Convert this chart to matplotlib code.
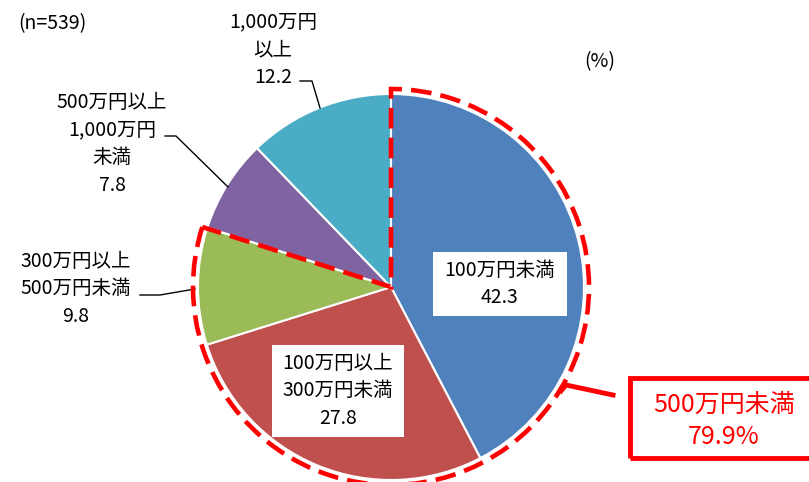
import numpy as np
import matplotlib.pyplot as plt
from matplotlib.patches import Wedge, Rectangle

plt.rcParams['font.family'] = ['Noto Sans CJK JP', 'DejaVu Sans']

labels = ['100万円未満', '100万円以上\n300万円未満', '300万円以上\n500万円未満',
          '500万円以上\n1,000万円\n未満', '1,000万円\n以上']
values = [42.3, 27.8, 9.8, 7.8, 12.2]
colors = ['#4F81BD', '#C0504D', '#9BBB59', '#8064A2', '#4BACC6']
under500 = 79.9

W, H = 809, 482
fig = plt.figure(figsize=(W / 100, H / 100), dpi=100)
ax = fig.add_axes([0, 0, 1, 1])

def py(y):
    # pixel row -> data y
    return H - y

cx, cy, r = 391, py(287), 193
ax.pie(values, colors=colors, startangle=90, counterclock=False,
       center=(cx, cy), radius=r, frame=True,
       wedgeprops=dict(edgecolor='white', linewidth=1.5))
ax.set_xlim(0, W)
ax.set_ylim(0, H)
ax.set_aspect('equal')
ax.axis('off')

# dashed outline around the < 5M yen slices
end_ang = 90 - under500 / 100 * 360
ax.add_patch(Wedge((cx, cy), r + 5, end_ang, 90, fill=False, edgecolor='#FF0000',
                   linewidth=3.3, linestyle=(0, (4.5, 2)), zorder=5))

fs = 14
txt = dict(fontsize=fs, ha='center', va='center', color='black', linespacing=1.42)

ax.text(18, py(24), '(n=539)', fontsize=fs, ha='left', va='center')
ax.text(600, py(62), '(%)', fontsize=fs, ha='center', va='center')

# inside labels with white boxes
ax.add_patch(Rectangle((433, py(316)), 134, 64, facecolor='white', edgecolor='none', zorder=6))
ax.text(500, py(284), f'{labels[0]}\n{values[0]}', zorder=7, **txt)
ax.add_patch(Rectangle((272, py(437)), 132, 92, facecolor='white', edgecolor='none', zorder=6))
ax.text(338, py(391), f'{labels[1]}\n{values[1]}', zorder=7, **txt)

# outside labels
ax.text(76, py(289), f'{labels[2]}\n{values[2]}', **txt)
ax.plot([140, 160, 195], [py(295), py(295), py(289)], color='black', lw=1)
ax.text(112, py(144), f'{labels[3]}\n{values[3]}', **txt)
ax.plot([165, 176, 228], [py(136), py(136), py(187)], color='black', lw=1)
ax.text(273, py(50), f'{labels[4]}\n{values[4]}', **txt)
ax.plot([300, 312, 320], [py(81), py(81), py(108)], color='black', lw=1)

# callout box
ax.add_patch(Rectangle((630, py(458)), 190, 80, fill=False, edgecolor='#FF0000',
                       linewidth=3.5, zorder=6, clip_on=False))
ax.plot([613, 566, 561], [py(395), py(385), py(391)], color='#FF0000', lw=3.5, zorder=6)
ax.text(724, py(421), f'500万円未満\n{under500}%', fontsize=18, color='#FF0000',
        ha='center', va='center', linespacing=1.3, zorder=7)

fig.savefig('out.png', dpi=100)
